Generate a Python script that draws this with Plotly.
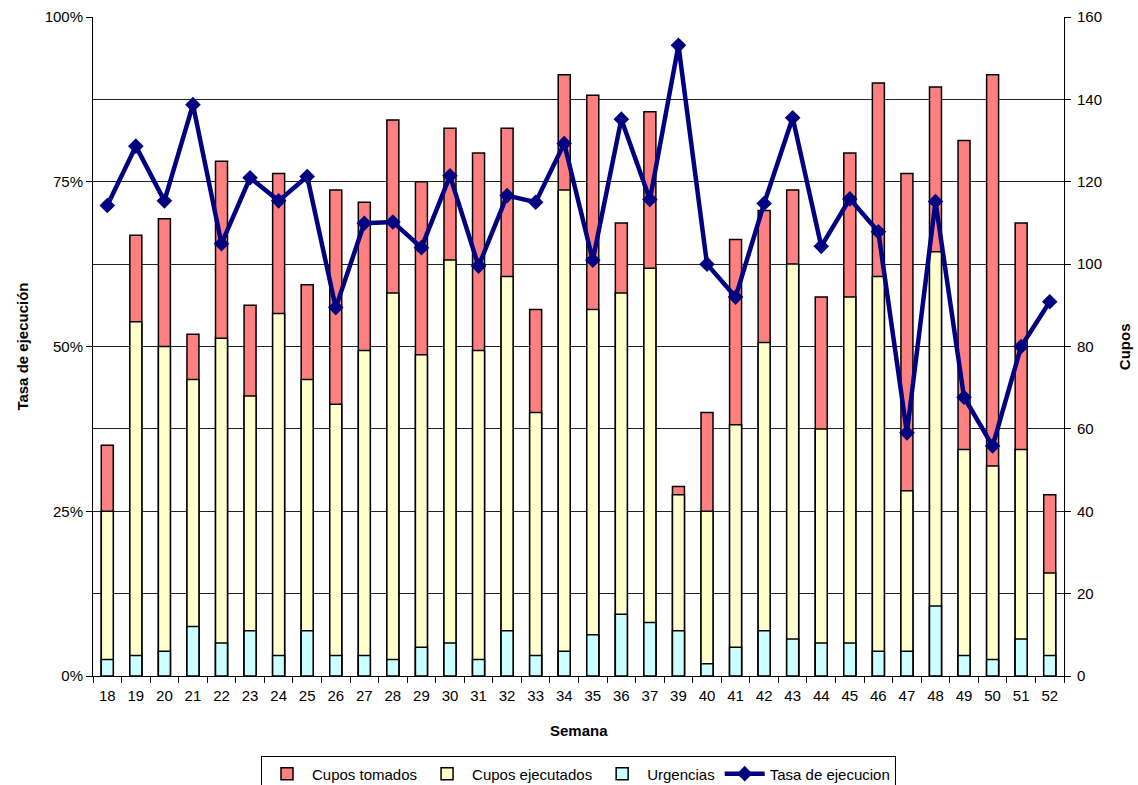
import plotly.graph_objects as go

semanas = ['18', '19', '20', '21', '22', '23', '24', '25', '26', '27', '28', '29', '30',
           '31', '32', '33', '34', '35', '36', '37', '39', '40', '41', '42', '43', '44',
           '45', '46', '47', '48', '49', '50', '51', '52']

cupos_tomados = [56, 107, 111, 83, 125, 90, 122, 95, 118, 115, 135, 120, 133,
                 127, 133, 89, 146, 141, 110, 137, 46, 64, 106, 113, 118, 92,
                 127, 144, 122, 143, 130, 146, 110, 44]

cupos_ejecutados = [40, 86, 80, 72, 82, 68, 88, 72, 66, 79, 93, 78, 101,
                    79, 97, 64, 118, 89, 93, 99, 44, 40, 61, 81, 100, 60,
                    92, 97, 45, 103, 55, 51, 55, 25]

urgencias = [4, 5, 6, 12, 8, 11, 5, 11, 5, 5, 4, 7, 8,
             4, 11, 5, 6, 10, 15, 13, 11, 3, 7, 11, 9, 8,
             8, 6, 6, 17, 5, 4, 9, 5]

tasa_ejecucion = [0.714, 0.804, 0.721, 0.867, 0.656, 0.756, 0.721, 0.758, 0.559, 0.687,
                  0.689, 0.650, 0.759, 0.622, 0.729, 0.719, 0.808, 0.631, 0.845, 0.723,
                  0.957, 0.625, 0.575, 0.717, 0.847, 0.652, 0.724, 0.674, 0.369, 0.720,
                  0.423, 0.349, 0.500, 0.568]

FONT = 'Liberation Sans, Arial, sans-serif'

fig = go.Figure()

bar_style = dict(width=0.42, marker_line=dict(color='black', width=1.5))

fig.add_trace(go.Bar(x=semanas, y=cupos_tomados, name='Cupos tomados',
                     marker_color='#FF8080', yaxis='y', **bar_style))
fig.add_trace(go.Bar(x=semanas, y=cupos_ejecutados, name='Cupos ejecutados',
                     marker_color='#FFFFCC', yaxis='y', **bar_style))
fig.add_trace(go.Bar(x=semanas, y=urgencias, name='Urgencias',
                     marker_color='#CCFFFF', yaxis='y', **bar_style))

fig.add_trace(go.Scatter(
    x=semanas, y=tasa_ejecucion, name='Tasa de ejecucion', yaxis='y2',
    mode='lines+markers',
    line=dict(color='#000080', width=4.5),
    marker=dict(symbol='diamond', size=12, color='#000080'),
))

fig.update_layout(
    width=1138, height=785,
    barmode='overlay',
    plot_bgcolor='white', paper_bgcolor='white',
    font=dict(family=FONT, size=15, color='black'),
    margin=dict(l=93, r=74, t=17, b=109, autoexpand=False),
    xaxis=dict(
        type='category', automargin=False, tickangle=0,
        range=[-0.5, len(semanas) - 0.5],
        showline=True, linecolor='black', linewidth=1,
        ticks='outside', tickson='boundaries', ticklen=6, tickcolor='black',
        ticklabelstandoff=6,
        showgrid=False,
    ),
    yaxis=dict(
        side='right', range=[0, 160], dtick=20, automargin=False,
        showline=True, linecolor='black', linewidth=1,
        ticks='outside', ticklen=6, tickcolor='black',
        ticklabelstandoff=3,
        showgrid=True, gridcolor='#222222', gridwidth=1,
        zeroline=False,
    ),
    yaxis2=dict(
        overlaying='y', side='left', range=[0, 1], dtick=0.25,
        tickformat='.0%', automargin=False,
        showline=True, linecolor='black', linewidth=1,
        ticks='outside', ticklen=6, tickcolor='black',
        showgrid=False, zeroline=False,
    ),
    legend=dict(
        orientation='h', x=0.5, xanchor='center', y=-0.122, yanchor='top',
        bordercolor='black', borderwidth=1, bgcolor='white',
        font=dict(size=15), traceorder='normal',
        itemwidth=40,
    ),
    annotations=[
        dict(text='<b>Semana</b>', xref='paper', yref='paper', x=0.5, y=-0.082,
             xanchor='center', yanchor='middle', showarrow=False, font=dict(size=15)),
        dict(text='<b>Tasa de ejecución</b>', xref='paper', yref='paper',
             x=-0.073, y=0.5, textangle=-90, xanchor='center', yanchor='middle',
             showarrow=False, font=dict(size=15)),
        dict(text='<b>Cupos</b>', xref='paper', yref='paper',
             x=1.0625, y=0.5, textangle=-90, xanchor='center', yanchor='middle',
             showarrow=False, font=dict(size=15)),
    ],
)

# drop the default page margin so the figure sits at the window's corner
fig.write_html('out.html',
               config={'displayModeBar': False},
               post_script="document.body.style.margin='0';"
                           "document.body.style.overflow='hidden';")
